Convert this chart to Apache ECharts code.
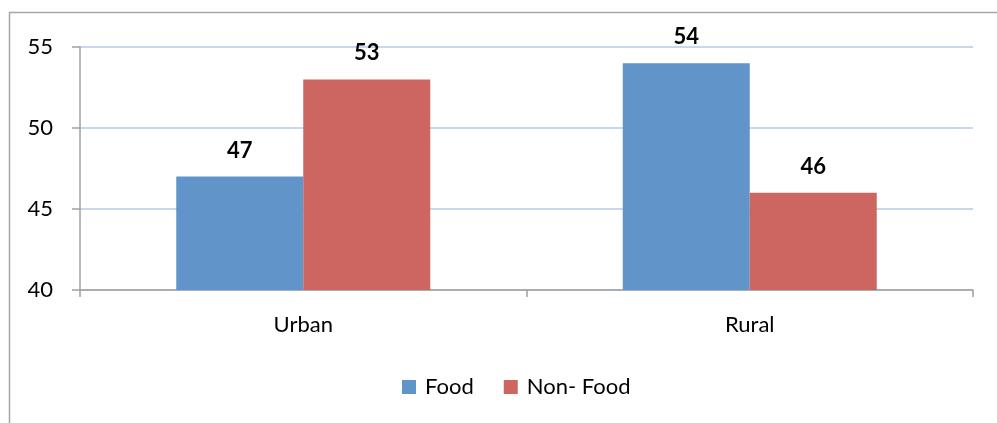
<!DOCTYPE html>
<html>
<head>
<meta charset="utf-8">
<script src="https://cdn.jsdelivr.net/npm/echarts@6/dist/echarts.min.js"></script>
<style>
  html, body { margin: 0; padding: 0; background: #fff; }
  #chart { width: 997px; height: 423px; }
</style>
</head>
<body>
<div id="chart"></div>
<script>
// Share of spending by area
const categories = ['Urban', 'Rural'];
const foodValues = [47, 54];
const nonFoodValues = [53, 46];
const seriesNames = ['Food', 'Non- Food'];
const yTicks = { min: 40, max: 55, interval: 5 };

const FONT = 'Lato, "Open Sans", sans-serif';

const chart = echarts.init(document.getElementById('chart'));

const labelStyle = {
  show: true,
  position: 'top',
  distance: 15,
  fontFamily: FONT,
  fontWeight: 'bold',
  fontSize: 22,
  color: '#000'
};

chart.setOption({
  animation: false,
  backgroundColor: '#fff',
  graphic: [{
    type: 'rect',
    shape: { x: 9.5, y: 12.5, width: 1100, height: 600 },
    style: { fill: 'none', stroke: '#a6a6a6', lineWidth: 1.5 },
    silent: true
  }],
  grid: { left: 80, right: 24, top: 47, bottom: 133 },
  legend: {
    data: seriesNames,
    bottom: 20,
    left: 397,
    itemWidth: 14,
    itemHeight: 14,
    itemGap: 30,
    icon: 'rect',
    textStyle: { fontFamily: FONT, fontSize: 22, color: '#000', padding: [0, 0, 0, 4] }
  },
  xAxis: {
    type: 'category',
    data: categories,
    axisLine: { lineStyle: { color: '#a0a0a0', width: 1.5 } },
    axisTick: { show: true, length: 7, lineStyle: { color: '#a0a0a0', width: 1.5 } },
    axisLabel: { fontFamily: FONT, fontSize: 22, color: '#000', margin: 24 }
  },
  yAxis: {
    type: 'value',
    min: yTicks.min,
    max: yTicks.max,
    interval: yTicks.interval,
    axisLine: { show: true, lineStyle: { color: '#a0a0a0', width: 1.5 } },
    axisTick: { show: true, length: 8, lineStyle: { color: '#a0a0a0', width: 1.5 } },
    axisLabel: { fontFamily: FONT, fontSize: 22, color: '#000', margin: 27 },
    splitLine: { lineStyle: { color: '#b4cbe3', width: 1.5 } }
  },
  series: [
    {
      name: seriesNames[0],
      type: 'bar',
      data: foodValues,
      barWidth: 127,
      barGap: '0%',
      itemStyle: { color: '#6195c9' },
      label: labelStyle
    },
    {
      name: seriesNames[1],
      type: 'bar',
      data: nonFoodValues,
      barWidth: 127,
      barGap: '0%',
      itemStyle: { color: '#cd6560' },
      label: labelStyle
    }
  ]
});
</script>
</body>
</html>
